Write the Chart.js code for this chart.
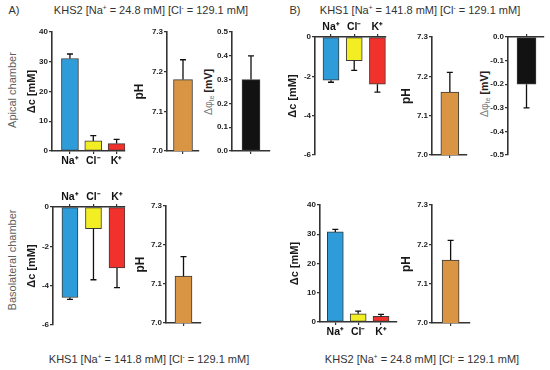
<!DOCTYPE html>
<html><head><meta charset="utf-8">
<script src="https://cdn.jsdelivr.net/npm/chart.js@4.4.0/dist/chart.umd.min.js"></script>
<style>
html,body{margin:0;padding:0;background:#fff;}
#fig{position:relative;width:550px;height:370px;overflow:hidden;font-family:"Liberation Sans",Arial,sans-serif;color:#333;}
#fig canvas{position:absolute;}
.t{position:absolute;white-space:nowrap;font-size:11px;transform:translate(-50%,-50%);color:#333;}
.r{position:absolute;white-space:nowrap;transform:translate(-50%,-50%) rotate(-90deg);}
.ch{font-size:11px;color:#5f5f5f;}
.phi{font-size:10.5px;color:#222;}
.phi .g{color:#7a7a7a;font-weight:normal;}
.phi b{font-weight:bold;}
sup{font-size:6.5px;vertical-align:4px;line-height:0;}
sub{font-size:7px;vertical-align:-2px;line-height:0;}
</style></head><body><div id="fig">
<div class="t" style="left:14px;top:10px">A)</div>
<div class="t" style="left:151px;top:10px">KHS2 [Na<sup>+</sup> = 24.8 mM] [Cl<sup>-</sup> = 129.1 mM]</div>
<div class="t" style="left:295px;top:10px">B)</div>
<div class="t" style="left:420px;top:10px">KHS1 [Na<sup>+</sup> = 141.8 mM] [Cl<sup>-</sup> = 129.1 mM]</div>
<div class="t" style="left:149px;top:359px">KHS1 [Na<sup>+</sup> = 141.8 mM] [Cl<sup>-</sup> = 129.1 mM]</div>
<div class="t" style="left:422px;top:359px">KHS2 [Na<sup>+</sup> = 24.8 mM] [Cl<sup>-</sup> = 129.1 mM]</div>
<div class="r ch" style="left:12px;top:90px">Apical chamber</div>
<div class="r ch" style="left:12px;top:260px">Basolateral chamber</div>
<div class="r phi" style="left:208px;top:92px"><span class="g">Δφ<sub>te</sub></span> <b>[mV]</b></div>
<div class="r phi" style="left:484px;top:94px"><span class="g">Δφ<sub>te</sub></span> <b>[mV]</b></div>
</div>
<script>
// ---- data ----
const ions = ['Na⁺', 'Cl⁻', 'K⁺'];
// A) apical chamber, KHS2
const apicalA_dc = [31.1, 3.4, 2.5];
const apicalA_dcErr = [1.5, 1.8, 1.4];
const apicalA_pH = [7.18];
const apicalA_pHErr = [0.05];
const apicalA_phi = [0.30];
const apicalA_phiErr = [0.10];
// B) apical chamber, KHS1
const apicalB_dc = [-2.2, -1.2, -2.4];
const apicalB_dcErr = [0.1, 0.5, 0.4];
const apicalB_pH = [7.16];
const apicalB_pHErr = [0.05];
const apicalB_phi = [-0.20];
const apicalB_phiErr = [0.10];
// A) basolateral chamber, KHS1
const basoA_dc = [-4.6, -1.1, -3.1];
const basoA_dcErr = [0.1, 2.6, 1.0];
const basoA_pH = [7.12];
const basoA_pHErr = [0.05];
// B) basolateral chamber, KHS2
const basoB_dc = [30.8, 2.8, 1.9];
const basoB_dcErr = [0.9, 0.9, 0.7];
const basoB_pH = [7.16];
const basoB_pHErr = [0.05];
// axis ranges [min, max, step]
const dcPosRange = [0, 40, 10];
const dcNegRange = [-6, 0, 2];
const pHRange = [7.0, 7.3, 0.1];
const phiPosRange = [0, 0.5, 0.1];
const phiNegRange = [-0.5, 0, 0.1];

// ---- styles ----
const ionColors = ['#2D9CD8', '#F3EE23', '#F1312B'];
const pHColor = ['#D99544'];
const phiColor = ['#121212'];
const AX = '#333';
Chart.defaults.font.family = '"Liberation Sans", Arial, sans-serif';

const errorBars = {
  id: 'errorBars',
  afterDatasetsDraw(chart) {
    const ctx = chart.ctx, ys = chart.scales.y;
    chart.data.datasets.forEach((ds, di) => {
      const meta = chart.getDatasetMeta(di);
      (ds.errors || []).forEach((e, i) => {
        const el = meta.data[i];
        const v = ds.data[i].y;
        const base = ys.getBaseValue();
        const end = v + (v >= base ? e : -e);
        const y1 = ys.getPixelForValue(end);
        ctx.save();
        ctx.strokeStyle = '#111';
        ctx.lineWidth = 1.3;
        ctx.beginPath();
        ctx.moveTo(el.x, el.y);
        ctx.lineTo(el.x, y1);
        ctx.moveTo(el.x - 3, y1);
        ctx.lineTo(el.x + 3, y1);
        ctx.stroke();
        ctx.restore();
      });
    });
  }
};

const panels = [
  {area:[52,32,125,151], x:[0.23,3.36], y:dcPosRange, labels:ions, values:apicalA_dc, errors:apicalA_dcErr, colors:ionColors, xPos:'bottom', title:'Δc [mM]', titleX:32, dec:0, bw:17},
  {area:[167,32,199,151], x:[0.47,1.53], y:pHRange, labels:[''], values:apicalA_pH, errors:apicalA_pHErr, colors:pHColor, xPos:'bottom', title:'pH', titleX:140, dec:1, bw:19},
  {area:[232,32,270,151], x:[0.5,1.5], y:phiPosRange, labels:[''], values:apicalA_phi, errors:apicalA_phiErr, colors:phiColor, xPos:'bottom', title:null, dec:1, bw:18},
  {area:[315,37,386,155], x:[0.31,3.37], y:dcNegRange, labels:ions, values:apicalB_dc, errors:apicalB_dcErr, colors:ionColors, xPos:'top', title:'Δc [mM]', titleX:293, dec:0, bw:16},
  {area:[432,37,467,155], x:[0.49,1.49], y:pHRange, labels:[''], values:apicalB_pH, errors:apicalB_pHErr, colors:pHColor, xPos:'bottom', title:'pH', titleX:407, dec:1, bw:18},
  {area:[508,37,544,155], x:[0.486,1.486], y:phiNegRange, labels:[''], values:apicalB_phi, errors:apicalB_phiErr, colors:phiColor, xPos:'top', title:null, dec:1, bw:19},
  {area:[53,207,125,325], x:[0.28,3.34], y:dcNegRange, labels:ions, values:basoA_dc, errors:basoA_dcErr, colors:ionColors, xPos:'top', title:'Δc [mM]', titleX:32, dec:0, bw:16},
  {area:[166,206,201,323], x:[0.5,1.5], y:pHRange, labels:[''], values:basoA_pH, errors:basoA_pHErr, colors:pHColor, xPos:'bottom', title:'pH', titleX:141, dec:1, bw:17},
  {area:[320,205,397,322], x:[0.33,3.7], y:dcPosRange, labels:ions, values:basoB_dc, errors:basoB_dcErr, colors:ionColors, xPos:'bottom', title:'Δc [mM]', titleX:295, dec:0, bw:16},
  {area:[432,205,470,323], x:[0.51,1.51], y:pHRange, labels:[''], values:basoB_pH, errors:basoB_pHErr, colors:pHColor, xPos:'bottom', title:'pH', titleX:407, dec:1, bw:17}
];

const padL = 40, padR = 8, padX = 22, padO = 10;
const fig = document.getElementById('fig');
panels.forEach(p => {
  const [l, t, r, b] = p.area;
  const W = padL + (r - l) + padR;
  const H = padX + (b - t) + padO;
  const top = p.xPos === 'bottom' ? t - padO : t - padX;
  const cv = document.createElement('canvas');
  cv.width = W; cv.height = H;
  cv.style.left = (l - padL) + 'px';
  cv.style.top = top + 'px';
  cv.style.width = W + 'px'; cv.style.height = H + 'px';
  fig.appendChild(cv);
  const titleSize = p.title === 'pH' ? 12 : 11;
  const titleLH = titleSize * 1.2;
  new Chart(cv, {
    type: 'bar',
    data: {
      datasets: [{
        data: p.values.map((v, i) => ({x: i + 1, y: v})),
        errors: p.errors,
        backgroundColor: p.colors,
        borderColor: '#3a3a3a',
        borderWidth: 1,
        borderSkipped: false,
        barThickness: p.bw
      }]
    },
    options: {
      responsive: false,
      animation: false,
      devicePixelRatio: 1,
      layout: {padding: p.xPos === 'bottom' ? {top: padO, right: padR, bottom: 0, left: 0} : {top: 0, right: padR, bottom: padO, left: 0}},
      plugins: {legend: {display: false}, tooltip: {enabled: false}},
      scales: {
        x: {
          type: 'linear', position: p.xPos, min: p.x[0], max: p.x[1], offset: false,
          afterBuildTicks: s => { s.ticks = p.labels.map((c, i) => ({value: i + 1})); },
          afterFit: s => { s.height = padX; },
          grid: {display: true, drawOnChartArea: false, drawTicks: true, tickLength: 3, color: AX, lineWidth: 1.2, offset: false},
          border: {display: true, color: AX, width: 1.6},
          ticks: {autoSkip: false, maxRotation: 0, padding: 1, color: '#111', font: {size: 10.5, weight: 'bold'},
                  callback: v => p.labels[Math.round(v) - 1] ?? ''}
        },
        y: {
          type: 'linear', min: p.y[0], max: p.y[1], beginAtZero: false,
          afterFit: s => { s.width = padL; },
          grid: {display: true, drawOnChartArea: false, drawTicks: true, tickLength: 3, color: AX, lineWidth: 1.2},
          border: {display: true, color: AX, width: 1.6},
          ticks: {stepSize: p.y[2], padding: 1, color: '#222', font: {size: 8, weight: 'bold'},
                  callback: v => Number(v).toFixed(p.dec)},
          title: p.title ? {display: true, text: p.title, color: '#1a1a1a', font: {size: titleSize, weight: 'bold'},
                  padding: {top: p.titleX - (l - padL) - titleLH / 2, bottom: 0}} : {display: false}
        }
      }
    },
    plugins: [errorBars]
  });
});
</script>
</body></html>
